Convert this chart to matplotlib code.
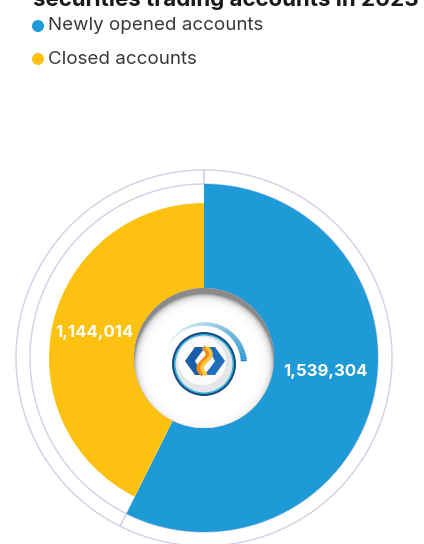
import numpy as np
import matplotlib
matplotlib.use('Agg')
import matplotlib.pyplot as plt
from matplotlib.patches import Circle, Polygon

# data
categories = ['Newly opened accounts', 'Closed accounts']
values = [1539304, 1144014]
labels = ['1,539,304', '1,144,014']
colors = ['#1e9bd7', '#fdc112']
title = 'securities trading accounts in 2023'

W, H = 424, 544
cx, cy = 204, 358          # chart centre (pixels)
R_ax = 192                 # polar axes radius (pixels)
r_hole = 70
r_outer = [174, 155]
ring_r = [174, 188]
ring_col = '#d0d0e6'

plt.rcParams['font.family'] = ['Inter', 'DejaVu Sans']

fig = plt.figure(figsize=(W / 100, H / 100), dpi=100)
bg = fig.add_axes([0, 0, 1, 1])
bg.set_xlim(0, W)
bg.set_ylim(H, 0)
bg.axis('off')

# title (upper part cut off by the frame, as in the source) and legend
bg.text(33, 6.5, title, fontsize=16, fontweight='bold', color='#1a1a1a', va='baseline', ha='left')
for i, (c, name) in enumerate(zip(colors, categories)):
    y = 26 + i * 33
    bg.scatter([38], [y], s=75, color=c, edgecolors='none')
    bg.text(48, y, name, fontsize=13.5, color='#3a3a3a', va='center', ha='left')

# donut / rose chart
ax = fig.add_axes([(cx - R_ax) / W, (H - cy - R_ax) / H, 2 * R_ax / W, 2 * R_ax / H], projection='polar')
ax.set_theta_zero_location('N')
ax.set_theta_direction(-1)
ax.set_ylim(0, R_ax)
ax.set_axis_off()

total = sum(values)
angles = [2 * np.pi * v / total for v in values]
starts = np.cumsum([0] + angles[:-1])

tt = np.linspace(0, 2 * np.pi, 400)
for r in ring_r:
    ax.plot(tt, np.full_like(tt, r), color=ring_col, lw=1, zorder=1)
for s in starts:
    ax.plot([s, s], [ring_r[0], ring_r[1]], color=ring_col, lw=1.2, zorder=1)

for s, a, ro, c in zip(starts, angles, r_outer, colors):
    ax.bar(s + a / 2, ro - r_hole, width=a, bottom=r_hole, color=c, edgecolor='none', zorder=2)

label_shift = [-0.12, 0.0]
for s, a, ro, lab, sh in zip(starts, angles, r_outer, labels, label_shift):
    ax.text(s + a / 2 + sh, (ro + r_hole) / 2, lab, color='white', fontsize=12, fontweight='bold',
            ha='center', va='center', zorder=3)

# centre hole with soft inner shadow
top = fig.add_axes([0, 0, 1, 1])
top.set_xlim(0, W)
top.set_ylim(H, 0)
top.axis('off')
clip = Circle((cx, cy), r_hole, transform=top.transData)
hole = Circle((cx, cy), r_hole, color='#8a8a8a')
top.add_patch(hole)
hole.set_clip_path(clip)
for k in range(14):
    p = Circle((cx, cy + 6), 57 + k, color='white', alpha=0.3, lw=0)
    top.add_patch(p)
    p.set_clip_path(clip)
p = Circle((cx, cy + 6), 57, color='white', lw=0)
top.add_patch(p)
p.set_clip_path(clip)

# logo
lx, ly = 204, 364
th = np.linspace(np.radians(150), np.radians(4), 70)
arc_r = 40
xs = lx + arc_r * np.cos(th)
ys = ly - arc_r * np.sin(th)
for i in range(len(th) - 1):
    f = i / (len(th) - 1)
    top.plot(xs[i:i + 2], ys[i:i + 2], color=(0.35 - 0.25 * f, 0.70 - 0.15 * f, 0.80), lw=1 + 3.5 * f,
             alpha=0.12 + 0.88 * f, solid_capstyle='butt')
top.add_patch(Circle((lx, ly), 32, facecolor='#1d4a80', edgecolor='none'))
top.add_patch(Circle((lx, ly), 30, facecolor='#2fb0dc', edgecolor='none'))
top.add_patch(Circle((lx, ly), 28.5, facecolor='#e4e6ea', edgecolor='none'))
top.add_patch(Circle((lx - 2, ly - 3), 24, facecolor='#ffffff', edgecolor='none', alpha=0.9))

hx, hy = 205, 361
left = [(1, -14), (-10, -14), (-20, 0), (-10, 14), (-2, 14), (-10, 0), (-5, -7)]
right = [(-x, -y) for x, y in left]
for poly, col in [(left, '#1b5ea8'), (right, '#1f6fb8')]:
    top.add_patch(Polygon([(hx + x, hy + y) for x, y in poly], closed=True, facecolor=col, edgecolor='none'))
sy = np.linspace(-14, 14, 40)
sx = 4.5 * np.sin(-sy / 14 * np.pi)
top.plot(hx + sx - 2, hy + sy, color='#f08c1a', lw=3, solid_capstyle='butt')
top.plot(hx + sx + 1.5, hy + sy, color='#fcc43a', lw=2.5, solid_capstyle='butt')

fig.savefig('out.png', dpi=100)
